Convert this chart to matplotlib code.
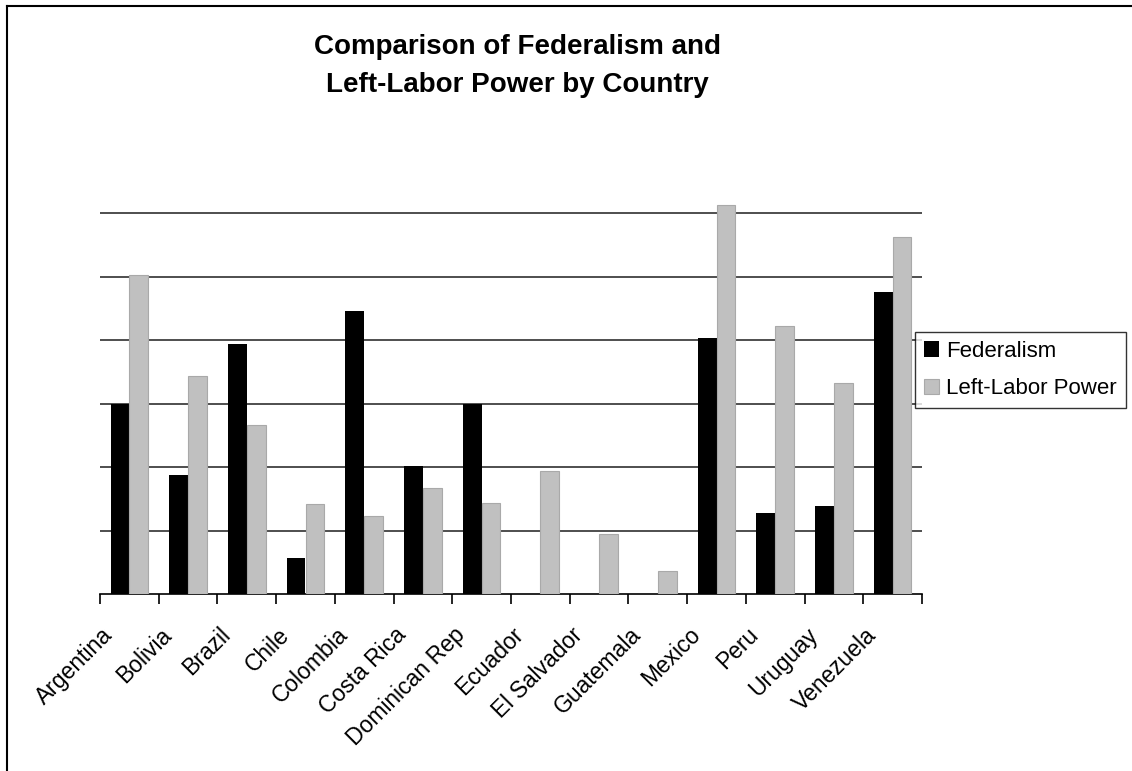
import matplotlib
matplotlib.use("Agg")
import matplotlib.pyplot as plt
from matplotlib.lines import Line2D
from matplotlib.transforms import ScaledTranslation
import numpy as np

plt.rcParams['font.family'] = ['Liberation Sans', 'DejaVu Sans']

countries = ['Argentina', 'Bolivia', 'Brazil', 'Chile', 'Colombia', 'Costa Rica',
             'Dominican Rep', 'Ecuador', 'El Salvador', 'Guatemala', 'Mexico',
             'Peru', 'Uruguay', 'Venezuela']
federalism = [3.00, 1.88, 3.94, 0.57, 4.46, 2.01, 3.00, 0, 0, 0, 4.03, 1.28, 1.39, 4.76]
left_labor = [5.03, 3.43, 2.66, 1.42, 1.23, 1.67, 1.43, 1.94, 0.94, 0.36, 6.13, 4.22, 3.33, 5.62]

W, H = 1132, 771
fig = plt.figure(figsize=(W / 100, H / 100), dpi=100)
ax = fig.add_axes([100 / W, (H - 594) / H, 822 / W, 412.75 / H])

x = np.arange(len(countries))
bw = 0.32
ax.bar(x - bw / 2, federalism, bw, color='black', label='Federalism', zorder=3)
ax.bar(x + bw / 2, left_labor, bw, color='#c0c0c0', edgecolor='#a9a9a9',
       linewidth=0.8, label='Left-Labor Power', zorder=3)

ax.set_xlim(-0.5, len(countries) - 0.5)
ax.set_ylim(0, 6.5)
ax.set_yticks(np.arange(1, 7))
ax.yaxis.grid(True, color='#404040', linewidth=1.3, zorder=0)
ax.tick_params(axis='y', length=0, labelleft=False)

for s in ['top', 'right', 'left']:
    ax.spines[s].set_visible(False)
ax.spines['bottom'].set_linewidth(1.2)

# boundary ticks between categories, labels at centres
ax.set_xticks(np.arange(-0.5, len(countries)), minor=True)
ax.tick_params(axis='x', which='minor', length=7, width=1.2, direction='out')
ax.set_xticks(x)
ax.set_xticklabels(countries, rotation=45, ha='right', va='center',
                   rotation_mode='anchor', fontsize=16.5)
ax.tick_params(axis='x', which='major', length=0, pad=27)
shift = ScaledTranslation(-0.2, 0, fig.dpi_scale_trans)
for lab in ax.get_xticklabels():
    lab.set_transform(lab.get_transform() + shift)

fig.text(517 / W, 1 - 66 / H, 'Comparison of Federalism and\nLeft-Labor Power by Country',
         ha='center', va='center', fontsize=20, fontweight='bold', linespacing=1.65)

leg = ax.legend(loc='center left', bbox_to_anchor=(915 / W, 1 - 370 / H),
                bbox_transform=fig.transFigure, fontsize=16, frameon=True,
                fancybox=False, edgecolor='black', handlelength=0.7,
                handleheight=0.7, handletextpad=0.3, borderpad=0.4,
                labelspacing=0.75, borderaxespad=0)
leg.get_frame().set_linewidth(1.0)

# outer frame on the left and top
fig.add_artist(Line2D([7 / W, 7 / W], [0, 1 - 6 / H], color='black', linewidth=1.5,
                      transform=fig.transFigure))
fig.add_artist(Line2D([7 / W, 1], [1 - 6 / H, 1 - 6 / H], color='black', linewidth=1.5,
                      transform=fig.transFigure))

fig.savefig('out.png', dpi=100)
